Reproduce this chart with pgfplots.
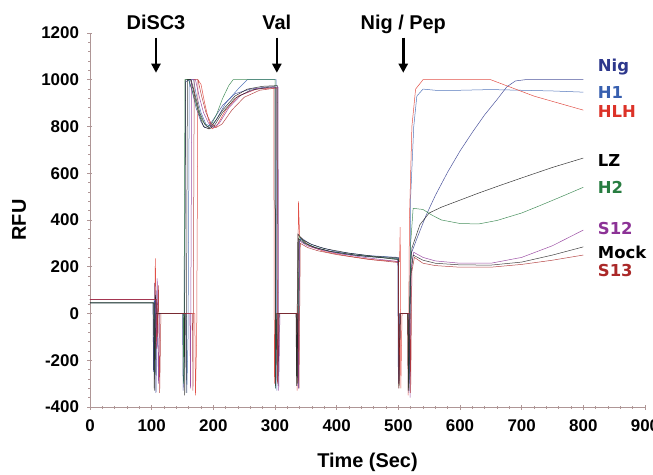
\documentclass[border=0pt]{standalone}
\usepackage{pgfplots}
\pgfplotsset{compat=1.18}
\usepackage{fontspec}
\setmainfont{Liberation Sans}
\newfontfamily\lblfont{DejaVu Sans}
\usetikzlibrary{arrows.meta}

\definecolor{axiscol}{RGB}{175,150,150}
\definecolor{cNig}{RGB}{45,55,140}
\definecolor{cHone}{RGB}{55,95,175}
\definecolor{cHLH}{RGB}{220,50,40}
\definecolor{cLZ}{RGB}{20,20,20}
\definecolor{cHtwo}{RGB}{40,125,65}
\definecolor{cS12}{RGB}{140,50,150}
\definecolor{cMock}{RGB}{30,30,30}
\definecolor{cS13}{RGB}{170,40,40}

\begin{document}
\begin{tikzpicture}
\begin{axis}[
  scale only axis,
  width=555bp, height=374bp,
  xmin=0, xmax=900, ymin=-400, ymax=1200,
  axis x line*=bottom, axis y line*=left,
  axis line style={draw=axiscol, line width=0.8bp, -},
  xtick={0,100,...,900}, ytick={-400,-200,...,1200},
  minor x tick num=4, minor y tick num=4,
  tick align=center,
  major tick length=5bp, minor tick length=3bp,
  every tick/.style={axiscol, line width=0.6bp},
  tick label style={font=\fontsize{17}{17}\selectfont\bfseries},
  xticklabel style={yshift=-7bp},
  yticklabel style={xshift=-5bp},
  /pgf/number format/assume math mode=true,
  /pgf/number format/1000 sep={},
  xlabel={Time (Sec)}, ylabel={RFU},
  label style={font=\fontsize{20}{20}\selectfont\bfseries},
  xlabel style={at={([yshift=-55bp]rel axis cs:0.5,0)}, anchor=center},
  ylabel style={at={([xshift=-71bp]rel axis cs:0,0.5)}, anchor=center},
  clip=false,
  every axis plot/.append style={line width=0.5bp, opacity=0.85, mark=none},
]
\coordinate (sw) at (rel axis cs:0,0);

% Nig
\addplot[cNig] coordinates {(0,45) (102,45) (103,-250) (105,130) (107,-340) (109,0) (150,0) (151,-330) (153,-200) (155,990) (160,1000) (165,960) (172,880) (180,820) (186,795) (192,800) (200,830) (215,890) (235,940) (260,960) (290,970) (300,970) (301,-320) (303,0) (336,0) (337,-310) (339,300) (341,320) (350,300) (365,282) (385,268) (410,255) (450,243) (499,235) (500,-300) (502,0) (516,0) (517,-340) (520,250) (530,320) (545,420) (560,505) (580,605) (600,695) (620,775) (640,850) (660,915) (676,970) (690,995) (705,1000) (800,1000)};
% H1
\addplot[cHone] coordinates {(0,60) (104,60) (105,-200) (107,100) (109,-150) (110,0) (156,0) (157,-340) (159,-100) (161,1000) (168,1000) (172,940) (180,860) (188,810) (196,800) (205,830) (220,900) (240,960) (255,1000) (302,1000) (303,-330) (305,0) (337,0) (338,-320) (340,310) (342,325) (355,300) (370,285) (400,265) (450,248) (500,240) (501,-280) (503,0) (517,0) (518,-300) (520,500) (525,800) (530,930) (540,960) (560,955) (600,955) (650,958) (700,955) (750,952) (800,947)};
% HLH
\addplot[cHLH] coordinates {(0,60) (105,60) (106,236) (108,-150) (110,0) (170,0) (171,-350) (173,-100) (175,1000) (180,980) (186,900) (192,830) (198,790) (205,800) (220,870) (240,930) (270,960) (298,965) (299,-300) (301,0) (335,0) (336,-330) (338,480) (340,330) (355,290) (380,265) (420,245) (460,230) (502,222) (503,370) (504,-320) (506,0) (515,0) (516,-350) (518,400) (522,800) (528,960) (540,1000) (650,1000) (680,970) (720,930) (760,900) (800,870)};
% LZ
\addplot[cLZ] coordinates {(0,45) (103,45) (104,-320) (106,80) (108,0) (152,0) (153,-350) (155,1000) (163,1000) (168,950) (176,860) (184,800) (192,790) (200,810) (215,870) (235,930) (255,960) (280,972) (304,975) (305,-310) (307,0) (334,0) (335,-310) (337,340) (345,315) (360,295) (380,278) (420,258) (460,245) (500,238) (501,-320) (503,0) (515,0) (516,-330) (519,150) (522,280) (535,380) (550,430) (570,455) (600,485) (630,515) (665,548) (700,580) (750,625) (800,665)};
% H2
\addplot[cHtwo] coordinates {(0,45) (104,45) (105,-260) (107,60) (109,0) (151,0) (152,-300) (154,1000) (160,1000) (166,950) (174,880) (182,825) (190,800) (196,805) (205,850) (215,920) (225,975) (232,1000) (300,1000) (301,-320) (303,0) (336,0) (337,-300) (339,330) (350,300) (365,283) (390,265) (430,250) (470,240) (500,233) (501,-310) (503,0) (516,0) (517,-320) (520,300) (524,450) (540,445) (555,420) (570,400) (600,385) (630,383) (660,398) (700,430) (730,462) (760,495) (800,540)};
% S12
\addplot[cS12] coordinates {(0,60) (106,60) (107,-150) (109,150) (111,-300) (113,0) (162,0) (163,-320) (165,1000) (171,1000) (177,930) (184,860) (192,815) (200,795) (210,815) (225,880) (245,935) (270,962) (305,968) (306,-330) (308,0) (337,0) (338,-320) (340,310) (352,290) (370,275) (400,258) (450,238) (500,222) (501,-300) (503,0) (518,0) (519,-360) (521,200) (525,262) (540,240) (560,225) (600,215) (650,215) (700,240) (750,290) (800,357)};
% Mock
\addplot[cMock] coordinates {(0,45) (104,45) (105,-330) (107,0) (155,0) (156,-340) (158,1000) (164,1000) (170,940) (178,860) (186,810) (194,790) (202,805) (215,860) (235,920) (260,955) (290,968) (300,970) (301,-310) (303,0) (335,0) (336,-300) (338,320) (348,300) (365,282) (390,266) (430,250) (470,240) (500,230) (501,-300) (503,0) (516,0) (517,-330) (520,150) (524,250) (540,228) (560,215) (600,208) (650,207) (700,220) (750,250) (800,285)};
% S13
\addplot[cS13] coordinates {(0,60) (108,60) (109,-100) (111,120) (113,-340) (115,0) (166,0) (167,-330) (169,1000) (175,1000) (181,930) (188,860) (196,815) (204,795) (214,810) (230,870) (250,925) (275,955) (303,965) (304,-300) (306,0) (338,0) (339,-320) (341,300) (353,282) (370,268) (400,252) (450,232) (500,218) (501,-320) (503,0) (519,0) (520,-340) (522,180) (526,240) (540,215) (560,205) (600,198) (650,198) (700,210) (750,228) (800,250)};

% injection arrows
\foreach \xx/\txt in {107/DiSC3, 303/Val, 508/{Nig / Pep}} {
  \edef\temp{\noexpand\draw[-{Triangle[length=9bp,width=9bp]}, line width=2.6bp, black]
    (axis cs:\xx,1180) -- (axis cs:\xx,1030);
    \noexpand\node[font=\noexpand\fontsize{20}{20}\noexpand\selectfont\noexpand\bfseries, anchor=base]
    at (axis cs:\xx,1215) {\txt};}
  \temp
}

% series labels
\begin{scope}[every node/.style={anchor=west, font=\lblfont\fontsize{16.5}{16.5}\selectfont\bfseries}]
\node[text=cNig]  at (axis cs:818,1053) {Nig};
\node[text=cHone] at (axis cs:818,947)  {H1};
\node[text=cHLH]  at (axis cs:818,866)  {HLH};
\node[text=black] at (axis cs:818,656)  {LZ};
\node[text=cHtwo] at (axis cs:818,541)  {H2};
\node[text=cS12]  at (axis cs:818,365)  {S12};
\node[text=black] at (axis cs:818,263)  {Mock};
\node[text=cS13]  at (axis cs:818,186)  {S13};
\end{scope}
\end{axis}
\pgfresetboundingbox
\path ([shift={(-90bp,-68bp)}]sw) rectangle ++(653bp,475bp);
\end{tikzpicture}
\end{document}
